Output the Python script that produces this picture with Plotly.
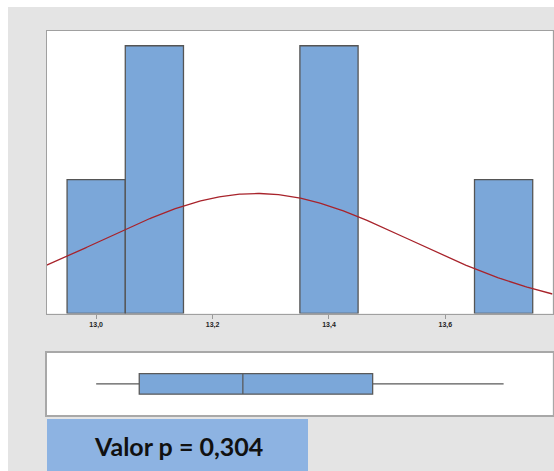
import numpy as np
import plotly.graph_objects as go

# Data
bin_centers = [13.0, 13.1, 13.4, 13.7]
bin_counts = [2, 4, 4, 2]
bin_width = 0.1
fit_mean = 13.275
fit_sd = 0.267
n_obs = 12
box_min, box_q1, box_median, box_q3, box_max = 13.0, 13.074, 13.252, 13.475, 13.70
tick_vals = [13.0, 13.2, 13.4, 13.6]
tick_text = ["13,0", "13,2", "13,4", "13,6"]
p_text = "Valor p = 0,304"

W, H = 554, 471
def fx(px): return px / W
def fy(py): return 1 - py / H

xr = [12.915, 13.784]

fig = go.Figure()
fig.add_trace(go.Bar(x=bin_centers, y=bin_counts, width=bin_width,
                     marker=dict(color="#7ba7d9", line=dict(color="#555555", width=1.3)),
                     xaxis="x", yaxis="y", showlegend=False))

xs = np.linspace(xr[0], xr[1], 300)
ys = n_obs * bin_width * np.exp(-0.5 * ((xs - fit_mean) / fit_sd) ** 2) / (fit_sd * np.sqrt(2 * np.pi))
fig.add_trace(go.Scatter(x=xs, y=ys, mode="lines", line=dict(color="#a8232b", width=1.3),
                         xaxis="x", yaxis="y", showlegend=False))

fig.add_trace(go.Box(q1=[box_q1], median=[box_median], q3=[box_q3],
                     lowerfence=[box_min], upperfence=[box_max], y=[0],
                     orientation="h", width=0.33, whiskerwidth=0,
                     fillcolor="#7ba7d9", line=dict(color="#5a5a5a", width=1.3),
                     xaxis="x2", yaxis="y2", showlegend=False, boxpoints=False))

fig.update_layout(
    width=W, height=H, margin=dict(l=0, r=0, t=0, b=0),
    paper_bgcolor="#e4e4e4", plot_bgcolor="white",
    xaxis=dict(domain=[fx(46.7), fx(552.5)], range=xr, tickvals=tick_vals,
               ticktext=["<b>" + t + "</b>" for t in tick_text],
               ticks="outside", ticklen=4, tickcolor="#999999",
               tickfont=dict(size=7, family="Arial", color="#222222"),
               showline=True, linecolor="#a0a0a0", mirror=True, showgrid=False, zeroline=False,
               anchor="y"),
    yaxis=dict(domain=[fy(313.5), fy(31)], range=[0, 4.22], showticklabels=False, ticks="",
               showline=True, linecolor="#a0a0a0", mirror=True, showgrid=False, zeroline=False,
               anchor="x"),
    xaxis2=dict(domain=[fx(46.7), fx(552.5)], range=xr, showticklabels=False, ticks="",
                showline=True, linecolor="#a8a8a8", linewidth=1.5, mirror=True, showgrid=False,
                zeroline=False, anchor="y2"),
    yaxis2=dict(domain=[fy(415), fy(352.7)], range=[-0.5, 0.5], showticklabels=False, ticks="",
                showline=True, linecolor="#a8a8a8", linewidth=1.5, mirror=True, showgrid=False,
                zeroline=False, anchor="x2", type="linear"),
    shapes=[
        dict(type="rect", xref="paper", yref="paper", x0=0, x1=1, y0=fy(7), y1=1,
             fillcolor="white", line=dict(width=0), layer="below"),
        dict(type="rect", xref="paper", yref="paper", x0=0, x1=fx(8), y0=0, y1=1,
             fillcolor="white", line=dict(width=0), layer="below"),
        dict(type="rect", xref="paper", yref="paper", x0=fx(47), x1=fx(308), y0=0, y1=fy(419),
             fillcolor="#8db3e2", line=dict(width=0), layer="below"),
    ],
    annotations=[
        dict(text="<b>" + p_text + "</b>", xref="paper", yref="paper", x=fx(178), y=fy(446),
             showarrow=False, xanchor="center", yanchor="middle",
             font=dict(size=25, family="Lato", color="#111111")),
    ],
)

fig.write_html("out.html", config={"displayModeBar": False},
               post_script="document.body.style.margin='0';document.body.style.overflow='hidden';")
